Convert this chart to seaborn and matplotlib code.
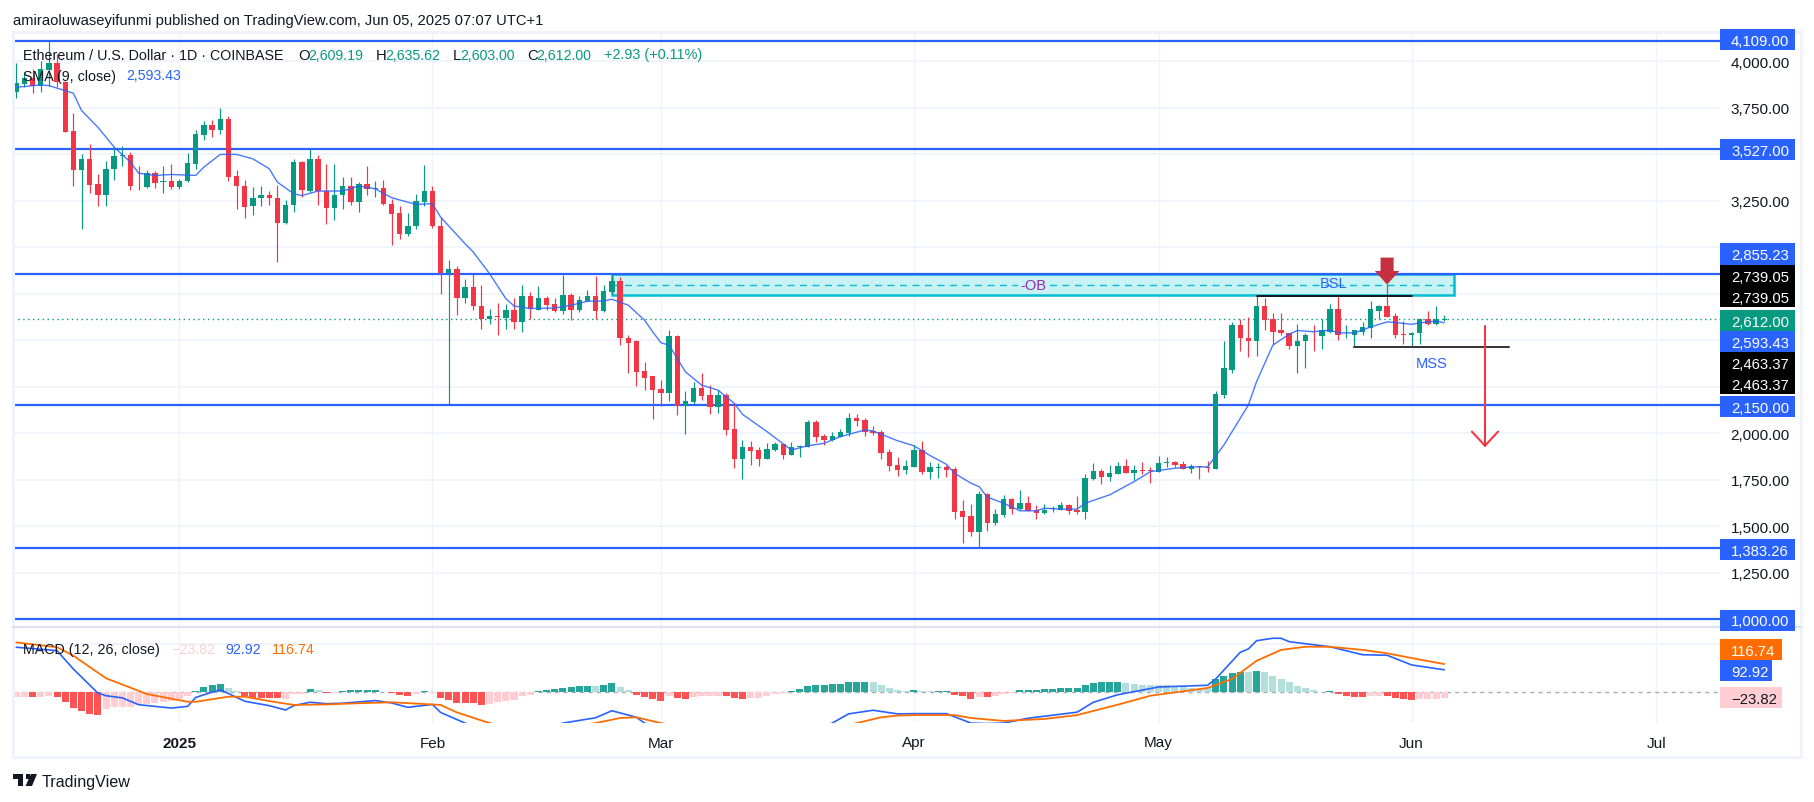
import numpy as np
import pandas as pd
import seaborn as sns
import matplotlib
matplotlib.use("Agg")
import matplotlib.pyplot as plt
import matplotlib.dates as mdates
from matplotlib.patches import Rectangle, Polygon

# ---------- data ----------
first_day = "2024-12-12"
opens = [3837,3880,3908,3869,3953,3991,3891,3624,3413,3475,3341,3278,3418,3493,3497,3336,3323,3400,3348,3357,
         3323,3354,3448,3604,3658,3631,3690,3384,3330,3219,3264,3282,3266,3132,3225,3456,3303,3475,3302,3209,
         3278,3330,3241,3339,3311,3318,3234,3185,3073,3112,3243,3303,3116,2863,2885,2729,2788,2686,2616,2632,
         2621,2664,2600,2740,2664,2729,2695,2659,2745,2664,2713,2740,2659,
         2761,2820,2514,2493,2332,2305,2235,2213,2520,2145,2165,2240,2203,2138,2203,2020,1859,1923,1907,1859,
         1907,1940,1880,1923,1923,2058,1983,1961,1977,1999,2079,2068,2009,2004,1897,1827,1800,1816,1907,1789,
         1812,1816,1805,1580,1553,1467,1671,1515,1558,1644,1590,1623,1585,1569,1590,1585,1612,1585,1574,1752,
         1795,1762,1778,1821,1784,1800,1800,1789,1838,1843,1832,1805,1821,1818,1805,
         2205,2342,2584,2514,2493,2681,2611,2552,2541,2471,2493,2530,2520,2546,2665,2525,2525,2546,2563,2659,
         2686,2632,2530,2525,2536,2611,2589,2609.19]
highs = [3991,3944,3959,4003,4111,4039,3895,3720,3502,3556,3395,3463,3538,3543,3511,3439,3413,3409,3434,3448,
         3368,3508,3631,3676,3686,3749,3704,3416,3359,3323,3327,3300,3336,3255,3475,3463,3529,3497,3448,3448,
         3377,3377,3350,3434,3354,3359,3260,3221,3185,3287,3443,3329,3162,2929,2897,2831,2858,2799,2670,2702,
         2697,2729,2799,2761,2793,2740,2729,2852,2756,2740,2772,2847,2799,
         2858,2840,2530,2503,2380,2305,2283,2552,2525,2224,2273,2321,2256,2230,2213,2160,1961,1956,1923,1945,
         1950,1940,1950,1934,2068,2068,1993,2004,2020,2106,2101,2079,2036,2015,1913,1870,1854,1934,1956,1843,
         1838,1827,1816,1639,1617,1687,1676,1590,1666,1650,1693,1660,1612,1617,1607,1628,1617,1660,1778,1838,
         1805,1827,1843,1859,1827,1843,1816,1875,1870,1848,1848,1832,1821,1848,2224,
         2493,2600,2611,2627,2740,2724,2648,2648,2541,2589,2541,2584,2616,2697,2740,2579,2557,2600,2713,2691,
         2804,2648,2605,2546,2616,2659,2681,2635.62]
lows = [3803,3860,3830,3837,3869,3860,3620,3327,3099,3293,3219,3219,3359,3439,3305,3305,3320,3320,3293,3314,
        3311,3350,3422,3574,3595,3610,3357,3207,3158,3171,3219,3225,2920,3126,3189,3269,3296,3228,3126,3144,
        3207,3225,3189,3278,3269,3228,3010,3042,3060,3096,3221,3105,2750,2154,2634,2702,2661,2562,2589,2527,
        2562,2562,2546,2616,2664,2664,2654,2638,2607,2654,2713,2616,2654,
        2750,2473,2321,2251,2230,2074,2147,2171,2095,1993,2154,2176,2101,2106,1988,1811,1752,1827,1822,1859,
        1902,1859,1880,1870,1923,1950,1934,1956,1977,1983,2036,1983,1988,1859,1795,1768,1779,1816,1778,1752,
        1757,1762,1537,1408,1445,1381,1472,1505,1548,1564,1585,1580,1537,1564,1574,1585,1564,1564,1537,1746,
        1725,1741,1778,1784,1746,1778,1730,1789,1816,1816,1805,1784,1752,1789,1805,
        2187,2321,2439,2407,2417,2552,2477,2530,2450,2321,2348,2444,2455,2536,2503,2514,2466,2530,2509,2611,
        2622,2509,2477,2471,2477,2579,2584,2603]
closes = [3883,3908,3869,3959,3991,3891,3622,3413,3475,3337,3278,3422,3491,3497,3327,3332,3400,3346,3357,3323,
          3357,3454,3610,3658,3631,3690,3380,3327,3218,3264,3282,3264,3132,3228,3456,3305,3475,3300,3209,3282,
          3330,3241,3339,3311,3318,3230,3180,3073,3116,3248,3303,3116,2863,2885,2729,2788,2682,2616,2632,2627,
          2664,2600,2740,2670,2729,2691,2659,2745,2664,2718,2740,2659,2766,
          2820,2509,2487,2326,2299,2230,2213,2520,2145,2170,2240,2197,2138,2203,2015,1859,1923,1902,1859,1913,
          1940,1880,1923,1929,2058,1977,1961,1983,2004,2079,2063,2004,1999,1891,1821,1800,1821,1907,1789,1816,
          1816,1800,1574,1548,1467,1671,1515,1564,1644,1590,1623,1580,1569,1585,1596,1612,1580,1574,1757,1795,
          1762,1784,1821,1784,1800,1795,1795,1838,1843,1827,1805,1821,1818,1811,2208,
          2348,2584,2509,2493,2681,2606,2546,2536,2471,2498,2530,2525,2552,2665,2525,2530,2552,2568,2665,2681,
          2627,2525,2527,2541,2611,2589,2611,2612]

sma_days = [-20,-17,-16,-13,-12,-10,-9,-8,-6,-5,-3,-1,2,3,5,7,9,11,12,14,15,17,20,22,24,26,29,31,32,35,36,38,
            40,41,43,46,48,50,52,53,55,57,58,59,60,62,64,66,68,69,72,75,77,79,81,84,85,88,90,92,94,95,97,98,99,
            101,103,105,106,108,110,111,114,117,119,122,124,126,128,131,132,134,136,137,139,141,142,144,146,148,
            149,151,152,154,155]
sma_vals = [3860,3873,3869,3828,3735,3645,3592,3538,3457,3398,3386,3391,3386,3431,3499,3499,3475,3422,3350,3287,
            3278,3302,3302,3329,3314,3266,3230,3234,3162,3019,2974,2858,2723,2684,2670,2673,2688,2709,2711,2720,
            2688,2607,2545,2486,2473,2330,2258,2231,2160,2101,2008,1909,1932,1945,1981,2017,2011,1959,1932,1879,
            1832,1784,1730,1712,1655,1623,1582,1582,1596,1591,1591,1623,1668,1739,1793,1811,1818,1818,1936,2151,
            2276,2473,2532,2552,2545,2554,2539,2539,2571,2598,2595,2585,2593,2602,2593.43]

hist_vals = [-18,-18,-18,-18,-14,-18,-41,-63,-76,-89,
             -94,-69,-62,-59,-59,-52,-50,-44,-39,-34,
             -28,-16,7,23,32,34,18,7,-16,-22,
             -25,-25,-25,-28,-7,-5,14,10,-3,-3,
             4,8,10,10,10,3,-3,-11,-15,-7,
             6,-3,-22,-30,-44,-44,-44,-52,-47,-41,
             -36,-32,-16,-11,4,10,14,18,23,26,
             26,27,32,38,21,10,-10,-18,-28,-34,
             -16,-25,-28,-18,-16,-14,-14,-16,-22,-28,
             -23,-23,-16,-7,-1,7,15,26,30,32,
             33,36,43,44,44,41,30,16,10,5,
             10,5,5,5,5,-10,-16,-28,-18,-19,
             -14,-5,-3,10,10,10,14,14,18,18,
             18,30,38,43,43,43,40,36,32,29,
             29,30,27,22,18,15,16,55,66,81,
             84,85,88,84,66,54,41,25,18,10,
             3,5,-5,-14,-18,-18,-15,-15,-16,-23,
             -26,-32,-28,-28,-26,-23.82]
# D = full colour bar, p = pale bar
hist_shade = ("ppDppDDDDD" "Dppppppppp" "ppDDDDppDD" "DDDpppDpDp" "DDDDDpDDDp" "DpDDDDDDpp"
              "ppppDDDDDD" "DpDDppDDDD" "pDDppppDDD" "pppppDDDDD" "DDDDDppppp" "DppDDDDDpD"
              "pppDDDDDDD" "DDDDDDpppp" "pppppppDDD" "DpDppppppp" "pDDDDDppDD" "DDpppp")

macd_days = [-20,-15,-13,-10,-9,-7,-5,-1,1,2,5,8,11,13,14,16,18,20,24,26,28,31,32,35,38,41,44,47,51,53,56,57,60,65,70,
             75,78,80,82,85,88,90,94,97,99,101,104,110,112,115,120,126,127,130,131,132,134,135,136,141,145,148,151,155]
macd_vals = [186,172,96,-3,-14,-23,-51,-65,-58,-21,11,-37,-55,-73,-55,-41,-47,-45,-34,-44,-62,-50,-83,-127,-165,-180,
             -165,-127,-105,-76,-103,-127,-160,-175,-190,-180,-150,-127,-89,-74,-89,-88,-88,-127,-129,-127,-107,-82,
             -41,-10,22,29,55,165,179,213,223,223,209,188,155,153,113,92.92]
signal_days = [-20,-15,-13,-9,-4,1,2,6,8,11,14,18,22,26,32,34,38,42,46,51,54,56,59,65,72,78,81,83,86,88,90,95,97,101,
               106,110,115,119,126,129,132,135,138,141,145,148,152,155]
signal_vals = [206,186,151,58,-7,-39,-39,-18,-18,-36,-52,-50,-45,-41,-52,-83,-127,-155,-150,-127,-106,-103,-127,-160,
               -175,-165,-145,-127,-103,-96,-94,-94,-106,-118,-110,-94,-51,-14,18,55,130,175,188,188,175,161,135,116.74]

hlevels = [4109, 3527, 2855.23, 2150, 1383.26, 1000]
price_grid = [1250,1500,1750,2000,2250,2500,2750,3000,3250,3500,3750,4000]
price_ticks = [1250,1500,1750,2000,3250,3750,4000]
month_days = [0, 31, 59, 90, 120, 151, 181]
month_labels = ["2025", "Feb", "Mar", "Apr", "May", "Jun", "Jul"]
ob_top, ob_mid, ob_bottom = 2855.23, 2798, 2742
bsl_level, mss_level, last_close = 2739.05, 2463.37, 2612.00
target_level, arrow_start = 1932, 2577

# ---------- style ----------
W, H = 1814, 803
FONT = "Liberation Sans"
GREEN, RED, BLUE, ORANGE = "#089981", "#f23645", "#2962ff", "#ff6d00"
GRID = "#f0f3fa"
TXT = "#131722"
sns.set_theme(style="white", rc={"font.family": FONT})

fig = plt.figure(figsize=(W / 100, H / 100), dpi=100, facecolor="white")
def fx(x): return x / W
def fy(y): return 1 - y / H
def axes_px(l, t, r, b):
    return fig.add_axes([fx(l), fy(b), (r - l) / W, (b - t) / H])

ax = axes_px(13, 34, 1720, 627)
mx = axes_px(13, 628, 1720, 724)

base = mdates.date2num(pd.Timestamp("2025-01-01"))
dates = mdates.date2num(pd.date_range(first_day, periods=len(closes)))
ohlc = pd.DataFrame({"x": dates, "o": opens, "h": highs, "l": lows, "c": closes})
ohlc["up"] = ohlc.c >= ohlc.o
ohlc["col"] = np.where(ohlc.up, GREEN, RED)

for a in (ax, mx):
    a.set_xlim(base - 20.4, base + 188.8)
    a.set_facecolor("white")
    for s in a.spines.values():
        s.set_visible(False)
    a.yaxis.tick_right()
    a.tick_params(axis="both", length=0, labelsize=11, labelcolor=TXT, pad=7.5)
    for m in month_days:
        a.axvline(base + m, color=GRID, lw=1, zorder=0)

# ---------- price pane ----------
ax.set_ylim(962.4, 4152)
ax.set_yticks(price_ticks, [f"{v:,.2f}" for v in price_ticks])
ax.set_xticks([])
for v in price_grid:
    ax.axhline(v, color=GRID, lw=1.3, zorder=0)

# order block zone
ax.add_patch(Rectangle((base + 53, ob_bottom), 103.2, ob_top - ob_bottom,
                       facecolor="#c8f3f4", edgecolor="#00bcd4", lw=1.8, zorder=1))
ax.plot([base + 53, base + 156.2], [ob_mid, ob_mid], color="#00bcd4", lw=1, ls=(0, (5, 4)), zorder=1.2)

for v in hlevels:
    ax.axhline(v, color=BLUE, lw=1.6, zorder=2)
ax.axhline(last_close, color=GREEN, lw=1, ls=(0, (1, 2.5)), zorder=2)

ax.vlines(ohlc.x, ohlc.l, ohlc.h, colors=ohlc.col, lw=0.85, zorder=3)
ax.bar(ohlc.x, (ohlc.c - ohlc.o).abs().clip(lower=4), bottom=ohlc[["o", "c"]].min(axis=1),
       width=0.66, color=ohlc.col, linewidth=0, zorder=3.1)

sns.lineplot(x=base + np.array(sma_days), y=sma_vals, ax=ax, color=BLUE, lw=1.0,
             estimator=None, sort=False, legend=False, zorder=4, alpha=0.85)

ax.plot([base + 132, base + 151], [bsl_level] * 2, color="#131722", lw=1.4, zorder=3.5)
ax.plot([base + 144, base + 163], [mss_level] * 2, color="#333333", lw=1.4, zorder=3.5)
ax.text(base + 104.6, ob_mid, "-OB", color="#9c27b0", fontsize=10.5, ha="center", va="center",
        zorder=5, bbox=dict(facecolor="#c8f3f4", edgecolor="none", pad=1.5))
ax.text(base + 141.5, ob_mid + 10, "BSL", color=BLUE, fontsize=10.5, ha="center", va="center", zorder=5)
ax.text(base + 153.5, 2375, "MSS", color=BLUE, fontsize=10.5, ha="center", va="center", zorder=5)

# projected move arrow
ax.plot([base + 160, base + 160], [arrow_start, target_level], color=RED, lw=1.5, zorder=5)
ax.plot([base + 158.4, base + 160, base + 161.6], [2008, target_level, 2008], color=RED, lw=1.5, zorder=5)

# marker above the rejection candle
mk = base + 148
ax.add_patch(Polygon([(mk - .8, 2944), (mk + .8, 2944), (mk + .8, 2872), (mk + 1.5, 2872), (mk, 2799),
                      (mk - 1.5, 2872), (mk - .8, 2872)], closed=True, facecolor="#c62f3f", edgecolor="none",
                     zorder=6))

# ---------- MACD pane ----------
mx.set_ylim(-126.6, 269.5)
mx.set_yticks([0, 200], ["", ""])
mx.axhline(200, color=GRID, lw=1.3, zorder=0)
colors = []
for v, k in zip(hist_vals, hist_shade):
    dark = k == "D"
    if v >= 0:
        colors.append("#26a69a" if dark else "#b2dfdb")
    else:
        colors.append("#ff5252" if dark else "#ffcdd2")
mx.bar(dates, hist_vals, width=0.86, color=colors, linewidth=0, zorder=2)
mx.axhline(0, color="#a9adb8", lw=1, ls=(0, (3, 3)), zorder=1.5)
sns.lineplot(x=base + np.array(macd_days), y=macd_vals, ax=mx, color=BLUE, lw=1.2, estimator=None, sort=False,
             legend=False, zorder=3)
sns.lineplot(x=base + np.array(signal_days), y=signal_vals, ax=mx, color=ORANGE, lw=1.3, estimator=None, sort=False,
             legend=False, zorder=4)
mx.set_xticks([base + m for m in month_days], month_labels)
mx.tick_params(axis="x", labelsize=11, pad=9)
mx.get_xticklabels()[0].set_fontweight("bold")
mx.set_xlabel("")
mx.set_ylabel("")
ax.set_xlabel("")
ax.set_ylabel("")

# ---------- frame ----------
fig.add_artist(Rectangle((fx(13), fy(758)), (1801 - 13) / W, (758 - 33) / H, transform=fig.transFigure,
                         fill=False, edgecolor=GRID, lw=2.2, zorder=1))
fig.add_artist(plt.Line2D([fx(13), fx(1801)], [fy(628), fy(628)], color="#e0e3eb", lw=1.6, zorder=1))

# ---------- axis value tags ----------
def tag(label, top, bottom, bg, fg="white", right=1795):
    fig.add_artist(Rectangle((fx(1720), fy(bottom)), (right - 1720) / W, (bottom - top) / H,
                             transform=fig.transFigure, facecolor=bg, edgecolor="none", zorder=5))
    fig.text(fx(1731), fy((top + bottom) / 2), label, color=fg, fontsize=10.7, ha="left", va="center_baseline", zorder=6)

tag("4,109.00", 30, 51, BLUE)
tag("3,527.00", 140, 161, BLUE)
tag("2,855.23", 244, 265.7, BLUE)
tag("2,739.05", 265.7, 286.7, "#000000")
tag("2,739.05", 286.7, 307.7, "#000000")
tag("2,612.00", 311, 331.7, GREEN)
tag("2,593.43", 331.7, 352.7, BLUE)
tag("2,463.37", 352.7, 374, "#000000")
tag("2,463.37", 374, 395, "#000000")
tag("2,150.00", 396.7, 417.7, BLUE)
tag("1,383.26", 540, 561, BLUE)
tag("1,000.00", 610.5, 631.5, BLUE)
tag("116.74", 640, 660.7, ORANGE, right=1782)
tag("92.92", 660.7, 681.7, BLUE, right=1772)
tag("\u221223.82", 688, 709, "#ffcdd2", fg=TXT, right=1782)

# ---------- header and legend ----------
def label(x, y, s, color=TXT, size=10.7):
    fig.text(fx(x), fy(y), s, color=color, fontsize=size, ha="left", va="center_baseline", zorder=6)

label(13, 20, "amiraoluwaseyifunmi published on TradingView.com, Jun 05, 2025 07:07 UTC+1", size=10.6)
label(23, 54, "Ethereum / U.S. Dollar \u00b7 1D \u00b7 COINBASE", size=10.3)
for lx, letter, vx, val in [(298, "O", 308, "2,609.19"), (375.5, "H", 385, "2,635.62"),
                            (452.5, "L", 460.5, "2,603.00"), (527, "C", 536, "2,612.00")]:
    label(lx, 54, letter)
    label(vx, 54, val, GREEN, size=10.2)
label(603.5, 54, "+2.93 (+0.11%)", GREEN, size=10.4)
label(23, 75, "SMA (9, close)", size=10.3)
label(126, 75, "2,593.43", BLUE, size=10.2)
label(23, 649, "MACD (12, 26, close)", size=10.3)
label(171, 649, "\u221223.82", "#ffcdd2", size=10.3)
label(225, 649, "92.92", BLUE, size=10.3)
label(271.5, 649, "116.74", ORANGE, size=10.3)

# ---------- TradingView wordmark ----------
tr = fig.transFigure
fig.add_artist(Rectangle((fx(13), fy(780)), 10 / W, 5 / H, transform=tr, facecolor="#131722", edgecolor="none", zorder=6))
fig.add_artist(Rectangle((fx(18), fy(787)), 5 / W, 7 / H, transform=tr, facecolor="#131722", edgecolor="none", zorder=6))
fig.add_artist(Rectangle((fx(25.5), fy(780)), 4.5 / W, 5 / H, transform=tr, facecolor="#131722", edgecolor="none", zorder=6))
fig.add_artist(Polygon([(fx(31), fy(775)), (fx(37), fy(775)), (fx(32), fy(787)), (fx(25.5), fy(787))],
                       closed=True, transform=tr, facecolor="#131722", edgecolor="none", zorder=6))
label(42, 781.5, "TradingView", size=11.6)

fig.savefig("out.png", dpi=100, facecolor="white")
